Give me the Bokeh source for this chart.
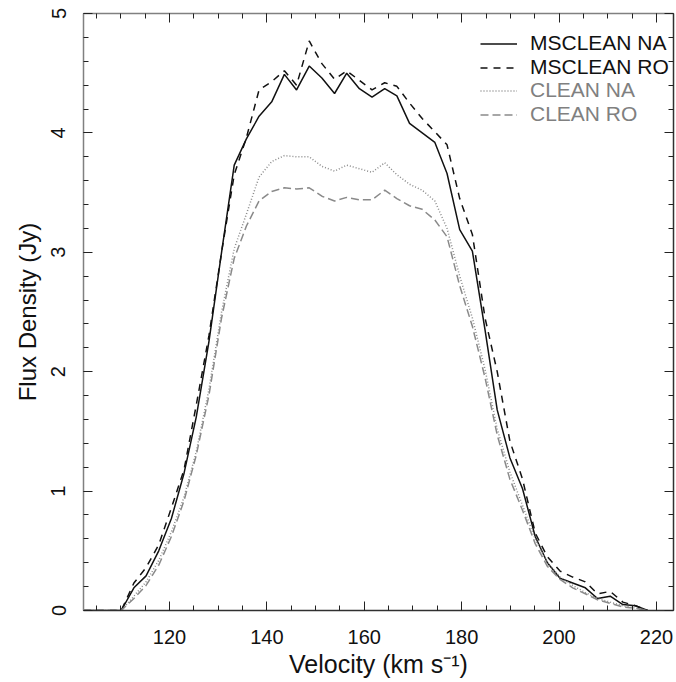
from bokeh.plotting import figure
from bokeh.models import (Range1d, LinearAxis, SingleIntervalTicker, Legend,
                          LegendItem, CustomJSTickFormatter)
from bokeh.embed import file_html
from bokeh.resources import INLINE

velocity = [102.4, 104.9, 107.5, 110.1, 112.7, 115.2, 117.8, 120.4, 123.0, 125.5,
            128.1, 130.7, 133.3, 135.8, 138.4, 141.0, 143.6, 146.1, 148.7, 151.3,
            153.9, 156.4, 159.0, 161.6, 164.2, 166.7, 169.3, 171.9, 174.5, 177.0,
            179.6, 182.2, 184.8, 187.3, 189.9, 192.5, 195.1, 197.6, 200.2, 202.8,
            205.4, 207.9, 210.5, 213.1, 215.7, 218.2]

msclean_na = [0, 0, 0, 0, 0.19, 0.29, 0.50, 0.77, 1.15, 1.62,
              2.25, 3.00, 3.73, 3.95, 4.14, 4.26, 4.49, 4.36, 4.56, 4.46,
              4.33, 4.50, 4.37, 4.30, 4.37, 4.31, 4.08, 4.00, 3.92, 3.66,
              3.19, 3.01, 2.35, 1.68, 1.28, 1.02, 0.62, 0.40, 0.27, 0.23,
              0.19, 0.10, 0.12, 0.05, 0.04, 0.0]

msclean_ro = [0, 0, 0, 0, 0.23, 0.36, 0.55, 0.86, 1.18, 1.72,
              2.30, 3.00, 3.65, 3.96, 4.36, 4.43, 4.52, 4.40, 4.77, 4.58,
              4.45, 4.52, 4.44, 4.36, 4.42, 4.39, 4.25, 4.12, 4.01, 3.90,
              3.45, 3.15, 2.45, 2.00, 1.42, 1.10, 0.65, 0.45, 0.33, 0.28,
              0.24, 0.14, 0.16, 0.07, 0.04, 0.0]

clean_na = [0, 0, 0, 0, 0.12, 0.24, 0.42, 0.66, 0.95, 1.33,
            1.85, 2.50, 3.03, 3.32, 3.63, 3.76, 3.81, 3.80, 3.80, 3.72,
            3.68, 3.73, 3.70, 3.67, 3.75, 3.65, 3.57, 3.52, 3.43, 3.20,
            2.80, 2.45, 2.02, 1.52, 1.16, 0.88, 0.60, 0.40, 0.28, 0.21,
            0.15, 0.10, 0.07, 0.04, 0.02, 0.0]

clean_ro = [0, 0, 0, 0, 0.10, 0.21, 0.38, 0.62, 0.92, 1.30,
            1.80, 2.45, 2.95, 3.22, 3.43, 3.51, 3.54, 3.53, 3.54, 3.47,
            3.43, 3.46, 3.44, 3.44, 3.52, 3.45, 3.39, 3.36, 3.27, 3.13,
            2.72, 2.38, 1.95, 1.47, 1.10, 0.84, 0.56, 0.37, 0.26, 0.19,
            0.14, 0.09, 0.06, 0.03, 0.02, 0.0]

labels = ["MSCLEAN NA", "MSCLEAN RO", "CLEAN NA", "CLEAN RO"]

FONT = "Liberation Sans"

p = figure(width=676, height=682,
           x_range=Range1d(102.35, 223.5), y_range=Range1d(0, 5),
           output_backend="svg", toolbar_location=None,
           x_axis_type=None, y_axis_type=None,
           min_border_left=83, min_border_right=3,
           min_border_top=13, min_border_bottom=72)
p.outline_line_color = None
p.background_fill_color = "white"
p.border_fill_color = "white"


def make_axis(kind, labelled, color):
    if kind == "x":
        ticker = SingleIntervalTicker(interval=20, num_minor_ticks=4)
    else:
        ticker = SingleIntervalTicker(interval=1, num_minor_ticks=5)
    ax = LinearAxis(ticker=ticker)
    ax.axis_line_color = color
    ax.axis_line_width = 1.5
    ax.major_tick_line_color = "#222222"
    ax.minor_tick_line_color = "#222222"
    ax.major_tick_in = 9
    ax.major_tick_out = 0
    ax.minor_tick_in = 5
    ax.minor_tick_out = 0
    ax.major_tick_line_width = 1
    ax.minor_tick_line_width = 1
    if labelled:
        ax.major_label_text_font = FONT
        ax.major_label_text_font_size = "20px"
        ax.major_label_text_color = "#111111"
        ax.axis_label_text_font = FONT
        ax.axis_label_text_font_size = "24px"
        ax.axis_label_text_font_style = "normal"
        ax.axis_label_text_color = "#111111"
    else:
        ax.formatter = CustomJSTickFormatter(code="return ''")
        ax.major_label_text_font_size = "0px"
        ax.major_label_standoff = 0
    return ax


xb = make_axis("x", True, "#303030")
xb.axis_label = "Velocity (km s\u207b\u00b9)"
xb.axis_label_text_font_size = "25px"
xb.major_label_standoff = 19
xb.axis_label_standoff = 3
p.add_layout(xb, "below")

yl = make_axis("y", True, "#808080")
yl.axis_label = "Flux Density (Jy)"
yl.major_label_orientation = "vertical"
yl.major_label_standoff = 18
yl.axis_label_standoff = 8
p.add_layout(yl, "left")

p.add_layout(make_axis("x", False, "#808080"), "above")
p.add_layout(make_axis("y", False, "#303030"), "right")

r1 = p.line(velocity, msclean_na, line_color="#111111", line_width=1.5)
r2 = p.line(velocity, msclean_ro, line_color="#111111", line_width=1.5,
            line_dash="7 6")
r3 = p.line(velocity, clean_na, line_color="#8a8a8a", line_width=1.5,
            line_dash="1 2")
r4 = p.line(velocity, clean_ro, line_color="#8a8a8a", line_width=1.5,
            line_dash="8 4")


def make_legend(items, color, loc):
    leg = Legend(items=items, location=loc)
    leg.label_text_font = FONT
    leg.label_text_font_size = "21px"
    leg.label_text_color = color
    leg.border_line_color = None
    leg.background_fill_alpha = 0
    leg.padding = 0
    leg.margin = 0
    leg.spacing = 0
    leg.glyph_width = 37
    leg.glyph_height = 23
    leg.label_height = 23
    leg.label_standoff = 13
    return leg


leg1 = make_legend([LegendItem(label=labels[0], renderers=[r1]),
                    LegendItem(label=labels[1], renderers=[r2])],
                   "#111111", (397, 531))
leg2 = make_legend([LegendItem(label=labels[2], renderers=[r3]),
                    LegendItem(label=labels[3], renderers=[r4])],
                   "#808080", (397, 484))
p.add_layout(leg1)
p.add_layout(leg2)

open("out.html", "w").write(file_html(p, INLINE))
